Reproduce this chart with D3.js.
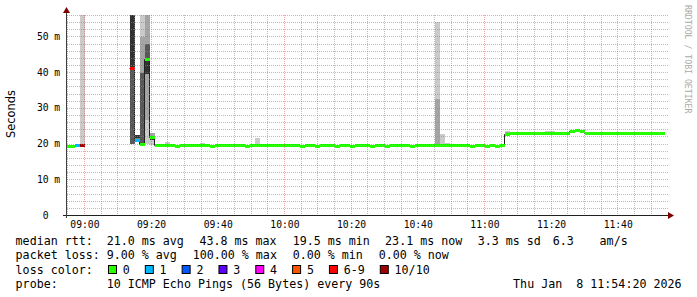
<!DOCTYPE html>
<html><head><meta charset="utf-8">
<script src="https://cdn.jsdelivr.net/npm/d3@7"></script>
<style>
html,body{margin:0;padding:0;background:#fff;}
svg{display:block;}
text{font-family:"DejaVu Sans Mono",monospace;fill:#000;}
</style></head><body>
<svg id="c" width="697" height="297"></svg>
<script>
// ---------- data ----------
const startTime = "2026-01-08T08:54:20";
const endTime = "2026-01-08T11:54:20";
const firstStepStart = "2026-01-08T08:54:08";
const stepSeconds = 90;
const yMax = 56;

// median rtt per 90 s step (ms), null = no data
const medians = [
  19.4, 19.4, 19.6, 19.5, null, null, null, null, null, null,
  null, null, null, 41.3, 21.1, 20.0, 43.8, 21.8, 19.5, 19.5,
  19.5, 19.5, 19.4, 19.5, 19.5, 19.5, 19.5, 19.5, 19.5, 19.4,
  19.5, 19.5, 19.5, 19.5, 19.5, 19.5, 19.4, 19.5, 19.5, 19.5,
  19.5, 19.5, 19.5, 19.5, 19.5, 19.5, 19.5, 19.4, 19.5, 19.5,
  19.4, 19.5, 19.5, 19.5, 19.4, 19.5, 19.5, 19.4, 19.5, 19.5,
  19.5, 19.4, 19.5, 19.5, 19.4, 19.5, 19.5, 19.5, 19.5, 19.4,
  19.5, 19.5, 19.5, 19.5, 19.5, 19.5, 19.5, 19.5, 19.5, 19.5,
  19.5, 19.4, 19.5, 19.5, 19.4, 19.5, 19.4, 19.6, 22.7, 23.0,
  23.0, 23.0, 23.0, 23.0, 23.0, 23.0, 23.0, 23.0, 23.0, 23.0,
  23.0, 23.5, 23.7, 23.5, 23.0, 23.0, 23.0, 23.0, 23.0, 23.0,
  23.0, 23.0, 23.0, 23.0, 23.0, 23.0, 23.0, 23.0, 23.0, 23.1
];
// lost pings (of 10) per step
const losses = [
  0, 0, 1, 10, null, null, null, null, null, null,
  null, null, null, 7, 1, 0, 0, 0, 0, 0,
  0, 0, 0, 0, 0, 0, 0, 0, 0, 0,
  0, 0, 0, 0, 0, 0, 0, 0, 0, 0,
  0, 0, 0, 0, 0, 0, 0, 0, 0, 0,
  0, 0, 0, 0, 0, 0, 0, 0, 0, 0,
  0, 0, 0, 0, 0, 0, 0, 0, 0, 0,
  0, 0, 0, 0, 0, 0, 0, 0, 0, 0,
  0, 0, 0, 0, 0, 0, 0, 0, 0, 0,
  0, 0, 0, 0, 0, 0, 0, 0, 0, 0,
  0, 0, 0, 0, 0, 0, 0, 0, 0, 0,
  0, 0, 0, 0, 0, 0, 0, 0, 0, 0
];
// steps with visible smoke, and their 10 sorted ping times (ms)
const smokeSteps = [3, 13, 14, 15, 16, 17, 20, 27, 38, 74, 75, 76, 83, 88, 96, 97, 101, 102, 103, 109];
const smokePings = [
  [19.5, 19.5, 19.5, 19.5, 19.5, 19.5, 19.5, 19.5, 19.5, 60],
  [19.8, 19.9, 20.0, 20.0, 41.3, 60, 60, 60, 60, 60],
  [21.2, 21.2, 21.3, 21.5, 21.6, 22.3, 22.3, 22.3, 22.3, 22.3],
  [19.7, 19.8, 19.9, 20.0, 20.0, 20.1, 39.9, 39.9, 49.8, 60],
  [20.0, 26.5, 39.5, 39.5, 39.5, 43.8, 47.8, 47.8, 60, 60],
  [19.6, 21.0, 21.0, 21.0, 21.0, 21.8, 21.8, 22.0, 23.0, 23.0],
  [19.3, 19.4, 19.4, 19.5, 19.5, 19.5, 19.6, 19.7, 19.9, 20.4],
  [19.3, 19.4, 19.4, 19.5, 19.5, 19.5, 19.6, 19.6, 19.7, 20.1],
  [19.3, 19.4, 19.5, 19.5, 19.5, 19.5, 19.6, 19.7, 19.8, 21.6],
  [19.3, 19.4, 19.5, 19.5, 19.5, 19.6, 19.7, 19.8, 32.5, 54.0],
  [19.3, 19.4, 19.5, 19.5, 19.5, 19.6, 19.7, 19.8, 19.9, 22.6],
  [19.3, 19.4, 19.5, 19.5, 19.5, 19.5, 19.6, 19.7, 19.8, 20.1],
  [19.3, 19.4, 19.5, 19.5, 19.5, 19.5, 19.6, 19.6, 19.7, 20.0],
  [22.4, 22.5, 22.6, 22.6, 22.7, 22.7, 22.8, 23.0, 23.3, 23.4],
  [22.8, 22.9, 22.9, 23.0, 23.0, 23.0, 23.1, 23.1, 23.2, 23.4],
  [22.8, 22.9, 22.9, 23.0, 23.0, 23.0, 23.1, 23.1, 23.2, 23.4],
  [23.2, 23.3, 23.4, 23.4, 23.5, 23.5, 23.6, 23.6, 23.7, 23.8],
  [23.3, 23.4, 23.5, 23.6, 23.7, 23.7, 23.8, 23.8, 23.9, 24.0],
  [23.2, 23.3, 23.4, 23.4, 23.5, 23.5, 23.6, 23.6, 23.7, 23.8],
  [22.8, 22.9, 22.9, 23.0, 23.0, 23.0, 23.1, 23.1, 23.2, 23.3]
];
const yMajorTicks = [0, 10, 20, 30, 40, 50];
const yUnit = "m";
const lossLabels = ["0", "1", "2", "3", "4", "5", "6-9", "10/10"];
const lossColors = ["#26ff00", "#00b8ff", "#0059ff", "#5e00ff", "#ff00ff", "#ff5500", "#ff0000", "#a10000"];
const rttLabel = "median rtt:";
const rttStats = ["21.0 ms avg", "43.8 ms max", "19.5 ms min", "23.1 ms now", "3.3 ms sd", "6.3", "am/s"];
const lossLabel = "packet loss:";
const lossStats = ["9.00 % avg", "100.00 % max", "0.00 % min", "0.00 % now"];
const colorLabel = "loss color:";
const probeLabel = "probe:";
const probeText = "10 ICMP Echo Pings (56 Bytes) every 90s";
const dateText = "Thu Jan  8 11:54:20 2026";
const yTitle = "Seconds";
const watermark = "RRDTOOL / TOBI OETIKER";

// ---------- chart ----------
const svg = d3.select("#c");
const parse = d3.timeParse("%Y-%m-%dT%H:%M:%S");
const tStart = parse(startTime), tEnd = parse(endTime), t0 = parse(firstStepStart);
const X0 = 66, X1 = 666, Y0 = 215, Y1 = 15;
const x = d3.scaleTime().domain([tStart, tEnd]).range([X0, X1]);
const y = d3.scaleLinear().domain([0, yMax]).range([Y0, Y1]);
const stepX = i => Math.round(x(new Date(t0.getTime() + i * stepSeconds * 1000)));
const ySnap = v => Math.round(y(v)) + 0.5;
const lossClass = l => l <= 5 ? l : (l < 10 ? 6 : 7);

svg.append("rect").attr("width", 697).attr("height", 297).attr("fill", "#fff");
svg.append("defs").append("clipPath").attr("id", "pc")
  .append("rect").attr("x", X0 + 1).attr("y", Y1).attr("width", X1 - X0).attr("height", Y0 - Y1);

const g = svg.append("g").attr("clip-path", "url(#pc)");

// smoke
const shades = d3.range(1, 6).map(i => { const c = Math.floor(190 / 5 * (5 - i)) + 50; return d3.rgb(c, c, c).formatHex(); });
smokeSteps.forEach((s, k) => {
  const p = smokePings[k];
  const xa = stepX(s), xb = stepX(s + 1);
  for (let b = 0; b < 5; b++) {
    const lo = p[b], hi = p[9 - b];
    if (lo == null || hi == null) continue;
    const ya = Math.round(y(hi)), yb = Math.round(y(lo));
    g.append("rect").attr("x", xa).attr("width", xb - xa)
      .attr("y", ya).attr("height", Math.max(0, yb - ya))
      .attr("fill", shades[b]);
  }
});

// thin dark median line
let d = "";
medians.forEach((m, i) => {
  if (m == null) return;
  const xa = stepX(i) - 0.5, xb = stepX(i + 1) - 0.5, yy = ySnap(m);
  if (i > 0 && medians[i - 1] != null) d += `L${xa},${yy}`; else d += `M${xa},${yy}`;
  d += `L${xb},${yy}`;
});
g.append("path").attr("d", d).attr("fill", "none").attr("stroke", "#202020").attr("stroke-width", 1);

// loss-coloured median segments
medians.forEach((m, i) => {
  if (m == null) return;
  g.append("line").attr("x1", stepX(i)).attr("x2", stepX(i + 1))
    .attr("y1", ySnap(m)).attr("y2", ySnap(m))
    .attr("stroke", lossColors[lossClass(losses[i])]).attr("stroke-width", 3);
});

// grid (drawn over the data, like rrdtool)
const grid = svg.append("g").attr("shape-rendering", "crispEdges");
const minorY = d3.range(2, yMax + 0.1, 2).filter(v => v % 10 !== 0);
minorY.forEach(v => {
  const yy = Math.round(y(v)) + 0.5;
  grid.append("line").attr("x1", X0 + 1).attr("x2", X1 + 2).attr("y1", yy).attr("y2", yy)
    .attr("stroke", "#8f8f8f").attr("stroke-opacity", 0.6).attr("stroke-dasharray", "1,1");
});
yMajorTicks.filter(v => v > 0).forEach(v => {
  const yy = Math.round(y(v)) + 0.5;
  grid.append("line").attr("x1", X0 + 1).attr("x2", X1 + 2).attr("y1", yy).attr("y2", yy)
    .attr("stroke", "#de5050").attr("stroke-opacity", 0.5).attr("stroke-dasharray", "1,1");
});
const minorT = d3.timeMinute.every(5).range(tStart, tEnd);
minorT.forEach(t => {
  const xx = Math.round(x(t)) - 0.5;
  const major = t.getMinutes() % 20 === 0;
  grid.append("line").attr("x1", xx).attr("x2", xx).attr("y1", Y1).attr("y2", Y0)
    .attr("stroke", major ? "#de5050" : "#8f8f8f").attr("stroke-opacity", major ? 0.5 : 0.6)
    .attr("stroke-dasharray", "1,1");
});

// axes
svg.append("line").attr("x1", X0 - 3).attr("x2", X1 + 3).attr("y1", Y0 + 0.5).attr("y2", Y0 + 0.5)
  .attr("stroke", "#1f1f1f");
svg.append("line").attr("x1", X0 + 0.5).attr("x2", X0 + 0.5).attr("y1", Y0 + 3).attr("y2", Y1 - 4)
  .attr("stroke", "#404040");
svg.append("path").attr("d", `M${X1 + 2},${Y0 - 3}L${X1 + 2},${Y0 + 4}L${X1 + 8},${Y0 + 0.5}Z`).attr("fill", "#7f0000");
svg.append("path").attr("d", `M${X0 - 3},${Y1 - 2}L${X0 + 4},${Y1 - 2}L${X0 + 0.5},${Y1 - 8}Z`).attr("fill", "#7f0000");

// y tick labels
yMajorTicks.forEach(v => {
  svg.append("text").attr("x", 48.6).attr("y", y(v) + 3.5).attr("text-anchor", "end")
    .style("font-size", "9.7px").text(v);
  if (v > 0) svg.append("text").attr("x", 54.2).attr("y", y(v) + 3.5)
    .style("font-size", "9.7px").text(yUnit);
});
// x tick labels
const fmt = d3.timeFormat("%H:%M");
minorT.filter(t => t.getMinutes() % 20 === 0).forEach(t => {
  svg.append("text").attr("x", x(t)).attr("y", 227.7).attr("text-anchor", "middle")
    .style("font-size", "9.7px").text(fmt(t));
});

// y title
svg.append("text").attr("transform", "translate(15,114) rotate(-90)").attr("text-anchor", "middle")
  .style("font-family", "'DejaVu Sans',sans-serif").style("font-size", "11.4px").text(yTitle);
// watermark
svg.append("text").attr("transform", "translate(685,5) rotate(90)")
  .style("font-size", "8.2px").style("fill", "#aaaaaa").text(watermark);

// legend
const LF = "11.66px", CW = 7.02;
const row = (txt, xx, yy) => svg.append("text").attr("x", xx).attr("y", yy).style("font-size", LF)
  .attr("xml:space", "preserve").text(txt);
const r1 = 245.3, r2 = 259.4, r3 = 273.5, r4 = 287.5;
row(rttLabel, 15.6, r1);
[106.7, 199.4, 292.7, 385.1, 477.7, 552.7, 599.6].forEach((xx, i) => row(rttStats[i], xx, r1));
row(lossLabel, 15.6, r2);
[106.7, 192.7, 292.7, 378.7].forEach((xx, i) => row(lossStats[i], xx, r2));
row(colorLabel, 15.6, r3);
let bx = 108.5;
lossLabels.forEach((lab, i) => {
  svg.append("rect").attr("x", bx).attr("y", 265.5).attr("width", 8).attr("height", 8)
    .attr("fill", lossColors[i]).attr("stroke", "#000").attr("stroke-width", 1);
  row(lab, bx + 14.3, r3);
  bx += 14.3 + lab.length * CW + 15.5;
});
row(probeLabel, 15.6, r4);
row(probeText, 106.7, r4);
row(dateText, 513.1, r4);
</script>
</body></html>
